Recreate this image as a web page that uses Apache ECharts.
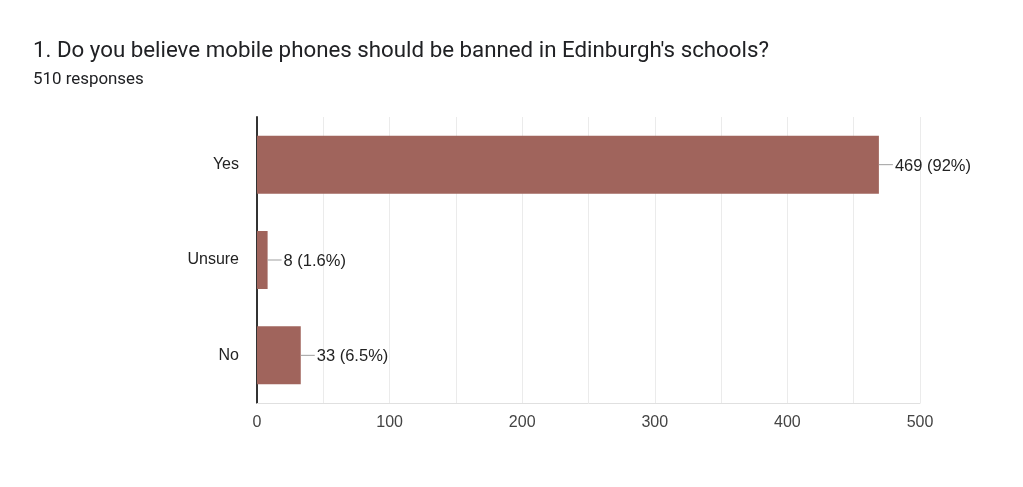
<!DOCTYPE html>
<html><head><meta charset="utf-8">
<script src="https://cdn.jsdelivr.net/npm/echarts@6/dist/echarts.min.js"></script>
<style>html,body{margin:0;padding:0;background:#fff}#c{width:1023px;height:487px}</style>
</head><body><div id="c"></div>
<script>
const categories = ['Yes', 'Unsure', 'No'];
const counts = [469, 8, 33];
const percents = ['92%', '1.6%', '6.5%'];
const xTicks = [0, 100, 200, 300, 400, 500];

const chart = echarts.init(document.getElementById('c'));
chart.setOption({
  animation: false,
  backgroundColor: '#fff',
  title: {
    text: "1. Do you believe mobile phones should be banned in Edinburgh's schools?",
    subtext: '510 responses',
    left: 28, top: 35,
    itemGap: 9,
    textStyle: { fontFamily: 'Roboto', fontSize: 22.3, fontWeight: 'normal', color: '#202124' },
    subtextStyle: { fontFamily: 'Roboto', fontSize: 16.9, color: '#202124' }
  },
  grid: { left: 257, right: 103, top: 117, bottom: 84, containLabel: false },
  xAxis: {
    type: 'value', min: xTicks[0], max: xTicks[xTicks.length - 1], interval: 100,
    axisLine: { show: true, lineStyle: { color: '#e0e0e0' } },
    axisTick: { show: false },
    splitLine: { show: true, lineStyle: { color: '#ebebeb' } },
    minorTick: { show: false, splitNumber: 2 },
    minorSplitLine: { show: true, lineStyle: { color: '#ebebeb' } },
    axisLabel: { fontFamily: 'Liberation Sans', fontSize: 16, color: '#444', margin: 12 }
  },
  yAxis: {
    type: 'category', data: categories, inverse: true,
    axisLine: { show: true, lineStyle: { color: '#333', width: 2 } },
    axisTick: { show: false },
    axisLabel: { fontFamily: 'Liberation Sans', fontSize: 16, color: '#222', margin: 18, padding: [4, 0, 0, 0] }
  },
  series: [{
    type: 'bar',
    data: counts,
    barWidth: 58,
    itemStyle: { color: '#a0645c' },
    label: {
      show: true, position: 'right', distance: 0,
      formatter: p => '{l|}{t|' + counts[p.dataIndex] + ' (' + percents[p.dataIndex] + ')}',
      rich: {
        l: { width: 14, height: 1, backgroundColor: '#9e9e9e' },
        t: { fontFamily: 'Liberation Sans', fontSize: 16.5, color: '#222', padding: [3, 0, 0, 2] }
      }
    }
  }]
});
</script></body></html>
